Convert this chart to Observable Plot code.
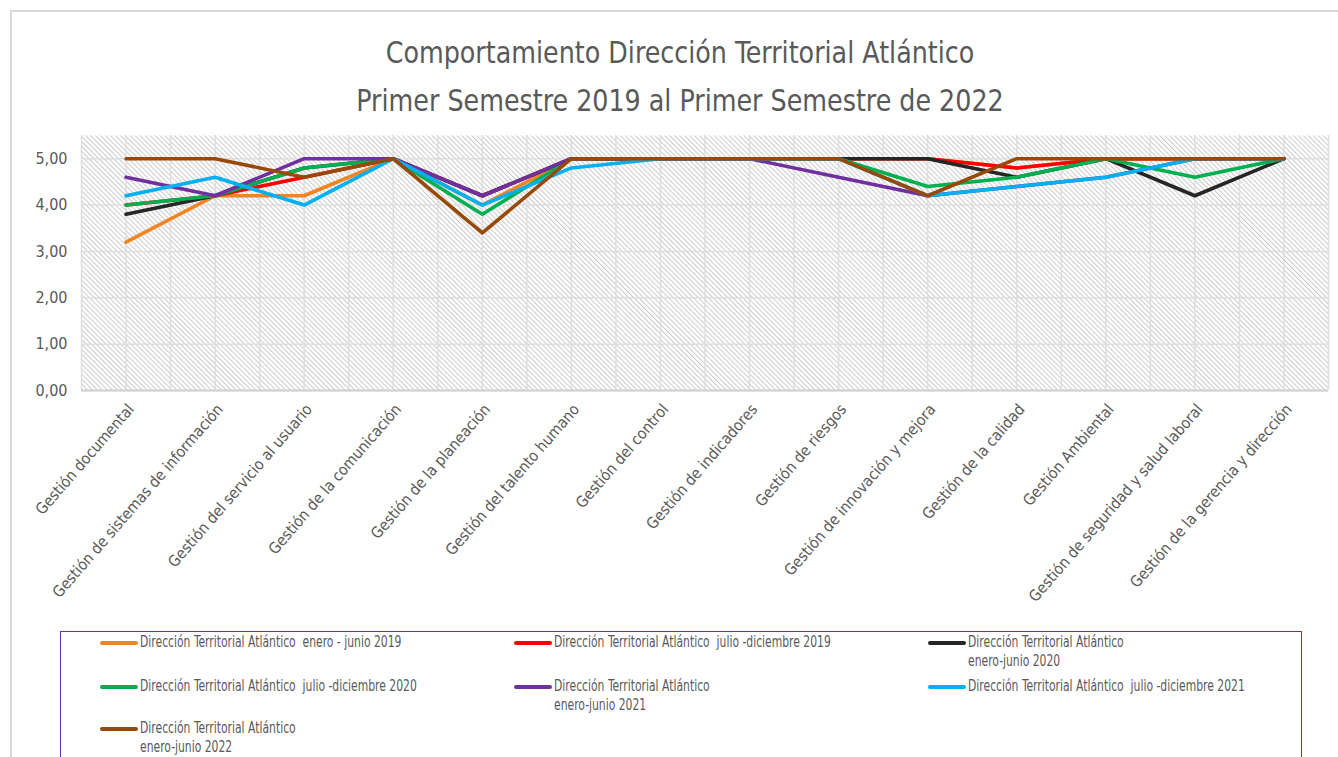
<!DOCTYPE html>
<html>
<head>
<meta charset="utf-8">
<script src="https://cdn.jsdelivr.net/npm/d3@7"></script>
<script src="https://cdn.jsdelivr.net/npm/@observablehq/plot@0.6"></script>
<style>
  html, body { margin: 0; padding: 0; background: #fff; }
  body { width: 1338px; height: 757px; overflow: hidden; position: relative;
         font-family: "Liberation Sans Narrow", "DejaVu Sans Condensed", "Roboto Condensed", sans-serif; color: #595959; }
  #frame { position: absolute; left: 10px; top: 10px; width: 1340px; height: 800px;
           border-top: 2px solid #d9d9d9; border-left: 2px solid #d9d9d9; }
  #title { position: absolute; left: 10px; width: 1340px; top: 28px; text-align: center;
           font-size: 31px; line-height: 48px; color: #595959; transform: scaleX(0.91); transform-origin: 670px 0; }
  #chart { position: absolute; left: 0; top: 120px; }
  #legend { position: absolute; left: 60px; top: 631px; width: 1242px; height: 140px;
            border: 1.5px solid #7030A0; box-sizing: border-box; }
  .item { position: absolute; display: flex; align-items: flex-start; font-size: 15px; line-height: 19px; color: #595959; }
  .sw { width: 38px; height: 4px; border-radius: 2px; margin-top: 8px; margin-right: 2px; flex: none; }
  .tx { display: inline-block; white-space: pre; transform: scaleX(0.8); transform-origin: 0 0; }
</style>
</head>
<body>
<div id="frame"></div>
<div id="title">Comportamiento Dirección Territorial Atlántico<br>Primer Semestre 2019 al Primer Semestre de 2022</div>
<div id="chart"></div>
<div id="legend"></div>
<script>
const categories = [
  "Gestión documental",
  "Gestión de sistemas de información",
  "Gestión del servicio al usuario",
  "Gestión de la comunicación",
  "Gestión de la planeación",
  "Gestión del talento humano",
  "Gestión del control",
  "Gestión de indicadores",
  "Gestión de riesgos",
  "Gestión de innovación y mejora",
  "Gestión de la calidad",
  "Gestión Ambiental",
  "Gestión de seguridad y salud laboral",
  "Gestión de la gerencia y dirección"
];

const seriesNames = [
  "Dirección Territorial Atlántico  enero - junio 2019",
  "Dirección Territorial Atlántico  julio -diciembre 2019",
  "Dirección Territorial Atlántico\nenero-junio 2020",
  "Dirección Territorial Atlántico  julio -diciembre 2020",
  "Dirección Territorial Atlántico\nenero-junio 2021",
  "Dirección Territorial Atlántico  julio -diciembre 2021",
  "Dirección Territorial Atlántico\nenero-junio 2022"
];

const seriesColors = ["#F28522", "#FF0000", "#262626", "#00B050", "#7030A0", "#00B0F0", "#984807"];

const ene2019 = [3.2, 4.2, 4.2, 5.0, 4.0, 5.0, 5.0, 5.0, 5.0, 5.0, 4.8, 5.0, 5.0, 5.0];
const jul2019 = [4.0, 4.2, 4.6, 5.0, 4.2, 5.0, 5.0, 5.0, 5.0, 5.0, 4.8, 5.0, 5.0, 5.0];
const ene2020 = [3.8, 4.2, 4.8, 5.0, 4.2, 5.0, 5.0, 5.0, 5.0, 5.0, 4.6, 5.0, 4.2, 5.0];
const jul2020 = [4.0, 4.2, 4.8, 5.0, 3.8, 5.0, 5.0, 5.0, 5.0, 4.4, 4.6, 5.0, 4.6, 5.0];
const ene2021 = [4.6, 4.2, 5.0, 5.0, 4.2, 5.0, 5.0, 5.0, 4.6, 4.2, 4.4, 4.6, 5.0, 5.0];
const jul2021 = [4.2, 4.6, 4.0, 5.0, 4.0, 4.8, 5.0, 5.0, 5.0, 4.2, 4.4, 4.6, 5.0, 5.0];
const ene2022 = [5.0, 5.0, 4.6, 5.0, 3.4, 5.0, 5.0, 5.0, 5.0, 4.2, 5.0, 5.0, 5.0, 5.0];

const yTicks = [0, 1, 2, 3, 4, 5];

const seriesValues = [ene2019, jul2019, ene2020, jul2020, ene2021, jul2021, ene2022];
const data = seriesValues.flatMap((vals, s) =>
  vals.map((v, i) => ({series: seriesNames[s], i, value: v})));

const chart = Plot.plot({
  width: 1338,
  height: 510,
  marginLeft: 81,
  marginRight: 10,
  marginTop: 15,
  marginBottom: 240,
  style: {fontFamily: '"Liberation Sans Narrow", "DejaVu Sans Condensed", sans-serif', color: "#595959", background: "transparent"},
  x: {type: "linear", domain: [-0.5, categories.length - 0.5], axis: null, label: null},
  y: {domain: [0, 5.5], axis: null, label: null},
  color: {domain: seriesNames, range: seriesColors},
  marks: [
    Plot.frame({fill: "url(#hatch)", stroke: null}),
    Plot.ruleX(d3.range(-0.5, categories.length, 0.5), {stroke: "#dedede", strokeWidth: 1.5}),
    Plot.ruleY(yTicks, {stroke: "#dedede", strokeWidth: 1.5}),
    Plot.ruleY([0], {stroke: "#d0d0d0", strokeWidth: 2}),
    Plot.axisY({ticks: yTicks, tickSize: 0, tickPadding: 14, fontSize: 16, label: null,
                tickFormat: d => d.toFixed(2).replace(".", ",")}),
    Plot.axisX({ticks: d3.range(categories.length), tickSize: 0, tickPadding: 16, tickRotate: -49, fontSize: 15.5,
                label: null, dx: 5, tickFormat: i => categories[i]}),
    Plot.line(data, {x: "i", y: "value", z: "series", stroke: "series", strokeWidth: 3.6})
  ]
});

// hatch pattern for the plot-area background
const ns = "http://www.w3.org/2000/svg";
const defs = document.createElementNS(ns, "defs");
defs.innerHTML = `<pattern id="hatch" width="3.5" height="3.5" patternUnits="userSpaceOnUse" patternTransform="rotate(-45)">
  <rect width="3.5" height="3.5" fill="#ffffff"/>
  <line x1="0.5" y1="0" x2="0.5" y2="3.5" stroke="#cccccc" stroke-width="1.1"/>
</pattern>`;
chart.insertBefore(defs, chart.firstChild);
document.getElementById("chart").appendChild(chart);

// legend
const legend = document.getElementById("legend");
const colX = [39, 453, 867];
const rowY = [1, 45, 87];
seriesNames.forEach((name, k) => {
  const item = document.createElement("div");
  item.className = "item";
  item.style.left = colX[k % 3] + "px";
  item.style.top = rowY[Math.floor(k / 3)] + "px";
  const sw = document.createElement("span");
  sw.className = "sw";
  sw.style.background = seriesColors[k];
  const tx = document.createElement("span");
  tx.className = "tx";
  tx.textContent = name;
  item.appendChild(sw);
  item.appendChild(tx);
  legend.appendChild(item);
});
</script>
</body>
</html>
